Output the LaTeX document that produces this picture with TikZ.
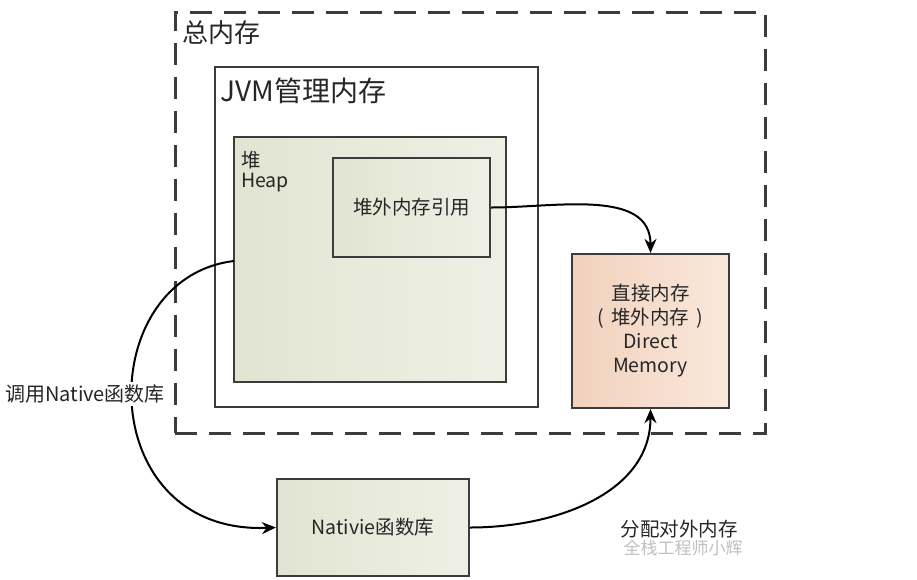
\documentclass[tikz,border=0pt]{standalone}
\usepackage{fontspec}
\setmainfont{Noto Sans CJK SC}
\usetikzlibrary{arrows.meta}
\definecolor{boxline}{HTML}{3C3C3C}
\definecolor{heapL}{HTML}{E2E4D2}
\definecolor{heapR}{HTML}{EFF0E5}
\definecolor{dirL}{HTML}{F1D1BD}
\definecolor{dirR}{HTML}{FAE8DC}
\tikzset{
  outerbox/.style={draw=boxline, line width=3pt, dash pattern=on 22pt off 12pt, minimum width=590pt, minimum height=421pt, inner sep=0pt},
  plainbox/.style={draw=boxline, line width=2.2pt, inner sep=0pt, fill=white},
  greenbox/.style={draw=boxline, line width=2.2pt, inner sep=0pt, left color=heapL, right color=heapR, align=center},
  peachbox/.style={draw=boxline, line width=2.2pt, inner sep=0pt, left color=dirL, right color=dirR, align=center},
  conn/.style={line width=2pt, -{Stealth[length=14pt,width=12pt]}},
  txt/.style={font=\fontsize{19.5}{23}\selectfont, text=black!85, inner sep=0pt},
}
\begin{document}
\begin{tikzpicture}[x=1pt,y=-1pt]
\useasboundingbox (0,0) rectangle (917,579);
\node[outerbox] (total) at (470,222.5) {};
\node[anchor=west, inner sep=0pt, font=\fontsize{26}{28}\selectfont, text=black!85] (totallbl) at (182,33) {总内存};
\node[plainbox, minimum width=323pt, minimum height=340pt] (jvm) at (376.5,237) {};
\node[anchor=west, inner sep=0pt, font=\fontsize{28}{30}\selectfont, text=black!85] (jvmlbl) at (220,91) {JVM管理内存};
\node[greenbox, minimum width=272pt, minimum height=245pt] (heap) at (370,259.5) {};
\node[txt, anchor=west] (heaplbl1) at (241,160) {堆};
\node[txt, anchor=west] (heaplbl2) at (241,183) {Heap};
\node[greenbox, minimum width=157pt, minimum height=99pt, txt] (ref) at (411.5,207.5) {堆外内存引用};
\node[peachbox, minimum width=157pt, minimum height=154pt, txt] (direct) at (650.5,331)
  {\parbox{150pt}{\centering\fontsize{19.5}{24}\selectfont 直接内存\\(\hspace{7pt}堆外内存\hspace{7pt})\\Direct\\Memory}};
\node[greenbox, minimum width=192pt, minimum height=97pt, txt] (native) at (373,527.5) {Nativie函数库};
% connectors
\coordinate (heapout) at (234,261);
\draw[conn] (ref.east) to[out=0,in=90] (direct.north);
\draw[conn] (heapout) .. controls (92,278) and (92,535) .. (native.west);
\node[txt, fill=white, inner xsep=2pt, inner ysep=3pt, font=\fontsize{20}{23}\selectfont] (calllbl) at (85,394) {调用Native函数库};
\draw[conn] (native.east) to[out=0,in=-90] (direct.south);
\node[txt] (alloclbl) at (679,529) {分配对外内存};
\node[txt, text=black!25, font=\fontsize{17}{20}\selectfont] (wm) at (683,548) {全栈工程师小辉};
\end{tikzpicture}
\end{document}
